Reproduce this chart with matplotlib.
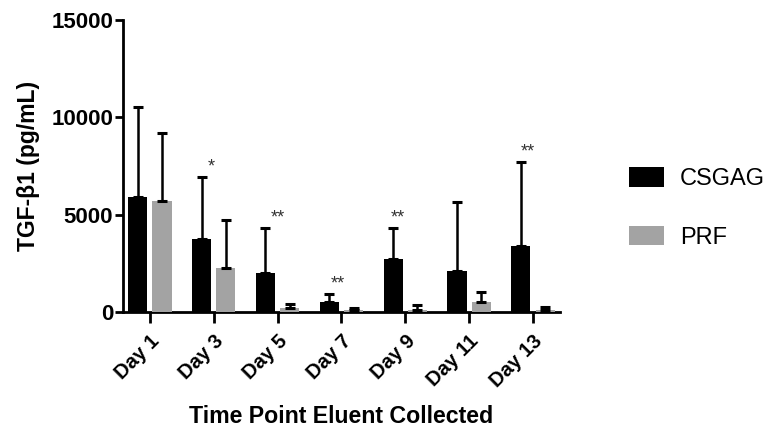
import matplotlib
matplotlib.use("Agg")
import matplotlib.pyplot as plt
import matplotlib.transforms as mtransforms
import numpy as np

days = ["Day 1", "Day 3", "Day 5", "Day 7", "Day 9", "Day 11", "Day 13"]
csgag_mean = [5920, 3730, 2020, 510, 2710, 2120, 3390]
csgag_err = [4620, 3220, 2310, 400, 1590, 3540, 4300]
prf_mean = [5700, 2280, 190, 100, 120, 530, 110]
prf_err = [3510, 2450, 220, 90, 260, 480, 130]
# significance marks: (day index, text)
sig_idx = [1, 2, 3, 4, 6]
sig_txt = ["*", "**", "**", "**", "**"]

plt.rcParams['font.family'] = ['Liberation Sans', 'DejaVu Sans']

fig = plt.figure(figsize=(7.69, 4.30), dpi=100)
ax = fig.add_axes([0.160, 0.2744, 0.568, 0.679])

x = np.arange(len(days))
w = 0.30
off = 0.19
ekw = dict(elinewidth=1.8, capthick=2.2, capsize=3.5, ecolor='black')
ax.bar(x - off, csgag_mean, w, color='black', label='CSGAG',
       yerr=[np.zeros(len(days)), csgag_err], error_kw=ekw, zorder=3)
ax.bar(x + off, prf_mean, w, color='#a3a3a3', label='PRF',
       yerr=[np.zeros(len(days)), prf_err], error_kw=ekw, zorder=3)

star_dx = {1: -0.04, 2: 0.0, 3: -0.06, 4: -0.12, 6: -0.08}
for i, t in zip(sig_idx, sig_txt):
    top = csgag_mean[i] + csgag_err[i]
    ax.annotate(t, xy=(x[i] + star_dx[i], top), xytext=(0, 1),
                textcoords='offset points', ha='center', va='bottom',
                fontsize=13, color='#333333')

ax.set_xlim(-0.42, len(days) - 1 + 0.42)
ax.set_ylim(0, 15000)
ax.set_yticks([0, 5000, 10000, 15000])
ax.set_xticks(x)
ax.set_xticklabels(days, rotation=45, ha='right', rotation_mode='anchor',
                   fontsize=14.5, fontweight='bold')
shift = mtransforms.ScaledTranslation(-4 / 100, 0, fig.dpi_scale_trans)
for lab in ax.get_xticklabels():
    lab.set_transform(lab.get_transform() + shift)
for lab in ax.get_yticklabels():
    lab.set_fontsize(16)
    lab.set_fontweight('bold')

for s in ['top', 'right']:
    ax.spines[s].set_visible(False)
for s in ['left', 'bottom']:
    ax.spines[s].set_linewidth(2)
ax.tick_params(axis='both', width=2, length=6, direction='out')
ax.tick_params(axis='x', length=8, pad=6)
ax.tick_params(axis='y', pad=1)

ax.set_ylabel('TGF-β1 (pg/mL)', fontsize=16.5, fontweight='bold', labelpad=8)
ax.set_xlabel('Time Point Eluent Collected', fontsize=16.7, fontweight='bold',
              labelpad=10)

fig.legend(loc='center left', bbox_to_anchor=(0.802, 0.516), frameon=False,
           fontsize=17, handlelength=1.5, handleheight=0.9,
           handletextpad=0.68, labelspacing=1.5, borderpad=0)

fig.savefig('out.png', dpi=100)
